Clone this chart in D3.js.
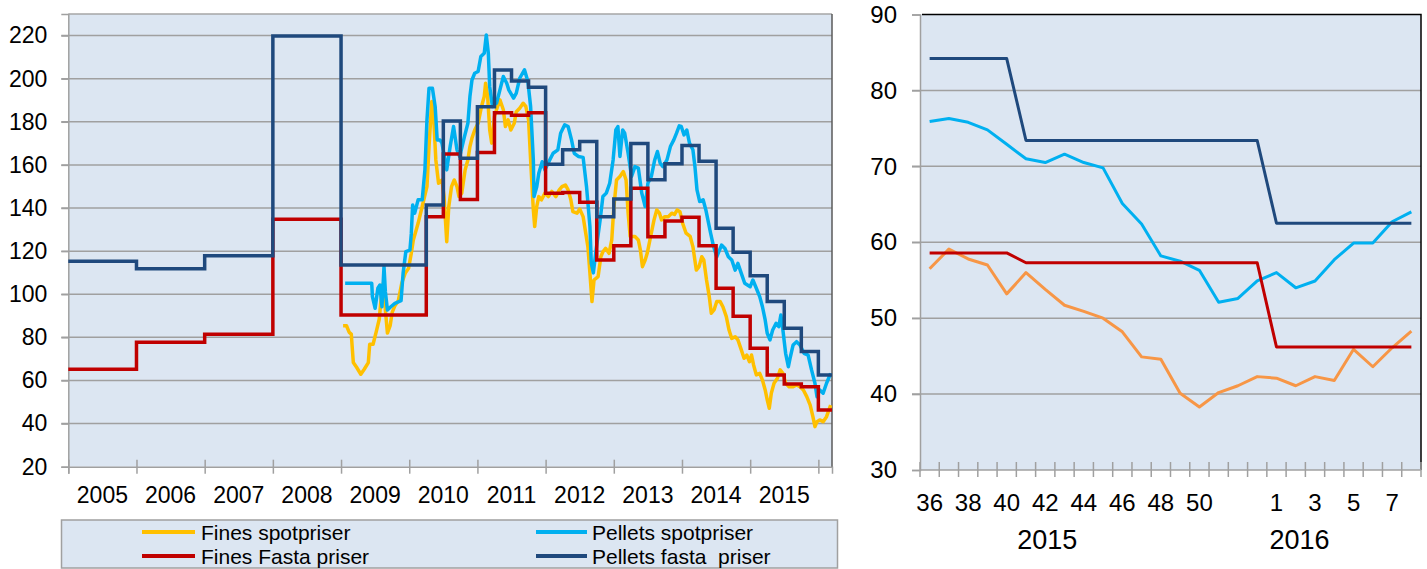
<!DOCTYPE html>
<html>
<head>
<meta charset="utf-8">
<script src="https://cdn.jsdelivr.net/npm/d3@7/dist/d3.min.js"></script>
<style>
  body { margin: 0; background: #fff; }
  svg text { font-family: "Liberation Sans", Arial, sans-serif; fill: #000; }
</style>
</head>
<body>
<script>
// ---- left chart: yearly / quarterly prices 2005-2016 ----
var yearTicks = [2005, 2006, 2007, 2008, 2009, 2010, 2011, 2012, 2013, 2014, 2015, 2016];
var yearLabels = ['2005', '2006', '2007', '2008', '2009', '2010', '2011', '2012', '2013', '2014', '2015'];
var leftYTicks = [20, 40, 60, 80, 100, 120, 140, 160, 180, 200, 220];
var dataEnd = 2016.2;

// [decimal year, price]
var finesSpot = [
  [2009.03, 85.4], [2009.08, 85.4], [2009.12, 82.3], [2009.15, 81.5], [2009.18, 68.3], [2009.23, 66.0],
  [2009.29, 62.9], [2009.34, 65.2], [2009.40, 68.3], [2009.42, 76.8], [2009.47, 76.8], [2009.52, 83.1],
  [2009.56, 88.4], [2009.59, 98.9], [2009.62, 105.1], [2009.65, 92.7], [2009.68, 82.0], [2009.72, 85.4],
  [2009.75, 91.6], [2009.79, 94.7], [2009.84, 97.0], [2009.89, 105.1], [2009.94, 109.7], [2009.99, 112.0],
  [2010.03, 119.0], [2010.06, 125.2], [2010.13, 132.9], [2010.19, 140.7], [2010.26, 149.9], [2010.29, 168.5],
  [2010.33, 189.4], [2010.36, 180.9], [2010.39, 162.3], [2010.43, 151.5], [2010.48, 153.0], [2010.51, 145.3],
  [2010.55, 124.4], [2010.58, 140.7], [2010.62, 149.9], [2010.66, 153.0], [2010.70, 149.9], [2010.73, 145.3],
  [2010.77, 146.9], [2010.82, 157.7], [2010.86, 162.3], [2010.89, 168.5], [2010.92, 172.4], [2010.96, 176.2],
  [2011.01, 179.3], [2011.06, 187.1], [2011.10, 191.7], [2011.12, 197.9], [2011.15, 191.7], [2011.18, 176.2],
  [2011.21, 170.1], [2011.25, 182.5], [2011.28, 185.6], [2011.33, 190.2], [2011.38, 185.6], [2011.41, 177.8],
  [2011.45, 180.9], [2011.49, 176.2], [2011.54, 179.3], [2011.57, 184.7], [2011.62, 186.3], [2011.67, 188.6],
  [2011.71, 187.1], [2011.75, 180.9], [2011.78, 162.3], [2011.82, 139.1], [2011.84, 131.4], [2011.87, 140.7],
  [2011.90, 145.3], [2011.94, 143.8], [2011.99, 146.9], [2012.04, 145.3], [2012.09, 147.7], [2012.15, 145.3],
  [2012.20, 148.4], [2012.24, 149.9], [2012.29, 150.7], [2012.33, 148.4], [2012.37, 143.8], [2012.40, 138.3],
  [2012.46, 137.6], [2012.50, 139.5], [2012.55, 136.0], [2012.62, 122.1], [2012.65, 109.7], [2012.68, 96.6],
  [2012.71, 106.6], [2012.77, 108.2], [2012.81, 117.4], [2012.84, 119.7], [2012.88, 121.3], [2012.93, 119.0],
  [2012.97, 125.2], [2013.00, 140.0], [2013.04, 153.0], [2013.09, 154.6], [2013.14, 156.9], [2013.18, 153.0],
  [2013.21, 137.6], [2013.24, 126.8], [2013.31, 126.8], [2013.36, 125.2], [2013.39, 120.5], [2013.42, 112.8],
  [2013.46, 115.9], [2013.49, 119.0], [2013.53, 125.2], [2013.55, 128.3], [2013.59, 134.5], [2013.63, 139.1],
  [2013.67, 137.6], [2013.70, 134.5], [2013.75, 136.0], [2013.80, 136.0], [2013.85, 137.6], [2013.89, 137.0],
  [2013.93, 139.1], [2013.97, 138.3], [2014.01, 132.9], [2014.06, 128.3], [2014.12, 126.8], [2014.16, 122.1],
  [2014.21, 111.2], [2014.25, 112.8], [2014.29, 117.4], [2014.32, 115.9], [2014.36, 106.6], [2014.40, 98.9],
  [2014.43, 91.2], [2014.47, 92.7], [2014.51, 96.6], [2014.56, 96.6], [2014.60, 94.2], [2014.65, 89.6],
  [2014.69, 83.4], [2014.73, 79.5], [2014.78, 80.3], [2014.82, 78.8], [2014.87, 74.2], [2014.91, 70.3],
  [2014.95, 71.8], [2014.99, 68.7], [2015.02, 71.8], [2015.05, 67.2], [2015.09, 62.6], [2015.14, 63.3],
  [2015.18, 60.2], [2015.22, 55.6], [2015.25, 51.0], [2015.28, 47.1], [2015.31, 54.1], [2015.35, 58.7],
  [2015.40, 61.0], [2015.44, 64.9], [2015.48, 63.3], [2015.52, 58.7], [2015.57, 57.1], [2015.63, 57.1],
  [2015.68, 57.9], [2015.73, 57.1], [2015.78, 55.6], [2015.83, 52.5], [2015.88, 48.6], [2015.92, 43.2],
  [2015.95, 38.6], [2015.98, 40.9], [2016.02, 41.7], [2016.07, 40.9], [2016.12, 43.2], [2016.18, 48.6]
];

var pelletsSpot = [
  [2009.06, 105.1], [2009.45, 105.1], [2009.46, 98.9], [2009.50, 93.5], [2009.54, 102.8], [2009.57, 104.3],
  [2009.60, 94.2], [2009.63, 112.8], [2009.65, 101.2], [2009.68, 92.7], [2009.73, 94.2], [2009.79, 95.8],
  [2009.88, 97.0], [2009.91, 109.7], [2009.95, 119.8], [2010.01, 120.5], [2010.03, 128.0], [2010.05, 141.4],
  [2010.08, 137.6], [2010.13, 143.8], [2010.19, 143.8], [2010.23, 157.7], [2010.26, 180.9], [2010.29, 195.6],
  [2010.34, 195.6], [2010.38, 187.1], [2010.41, 171.6], [2010.45, 171.6], [2010.48, 170.1], [2010.55, 157.7],
  [2010.60, 168.5], [2010.65, 177.8], [2010.70, 167.0], [2010.74, 163.9], [2010.81, 173.1], [2010.86, 179.3],
  [2010.89, 191.7], [2010.92, 199.4], [2010.96, 202.5], [2011.01, 203.3], [2011.05, 210.3], [2011.10, 211.8],
  [2011.13, 220.3], [2011.16, 211.8], [2011.18, 196.3], [2011.22, 187.1], [2011.28, 188.6], [2011.33, 194.8],
  [2011.38, 201.0], [2011.43, 197.9], [2011.46, 194.8], [2011.53, 191.0], [2011.57, 193.3], [2011.62, 200.2],
  [2011.69, 204.1], [2011.74, 198.7], [2011.78, 187.1], [2011.82, 162.3], [2011.83, 145.3], [2011.87, 149.9],
  [2011.90, 156.1], [2011.95, 161.5], [2011.99, 157.7], [2012.06, 162.3], [2012.11, 165.4], [2012.18, 167.0],
  [2012.22, 174.7], [2012.28, 178.6], [2012.33, 177.8], [2012.38, 171.6], [2012.42, 165.4], [2012.48, 163.9],
  [2012.55, 163.5], [2012.60, 149.9], [2012.65, 131.4], [2012.67, 114.3], [2012.70, 109.9], [2012.74, 120.5],
  [2012.80, 134.5], [2012.84, 145.3], [2012.89, 146.9], [2012.94, 151.5], [2012.99, 162.3], [2013.03, 176.2],
  [2013.06, 177.8], [2013.09, 163.9], [2013.13, 176.2], [2013.16, 174.7], [2013.21, 165.4], [2013.26, 154.6],
  [2013.31, 159.2], [2013.36, 158.5], [2013.41, 146.9], [2013.46, 140.7], [2013.50, 151.5], [2013.55, 154.6],
  [2013.60, 162.3], [2013.64, 166.2], [2013.68, 160.8], [2013.72, 159.2], [2013.78, 162.3], [2013.83, 168.5],
  [2013.88, 171.6], [2013.92, 174.7], [2013.96, 178.1], [2013.99, 177.8], [2014.03, 173.9], [2014.07, 176.2],
  [2014.11, 170.1], [2014.16, 167.0], [2014.19, 159.2], [2014.22, 148.4], [2014.26, 143.0], [2014.31, 143.8],
  [2014.35, 139.1], [2014.38, 134.5], [2014.42, 128.3], [2014.46, 122.5], [2014.51, 117.4], [2014.58, 122.8],
  [2014.63, 121.2], [2014.68, 117.4], [2014.73, 115.9], [2014.78, 111.2], [2014.82, 114.3], [2014.87, 109.7],
  [2014.92, 105.1], [2015.00, 103.5], [2015.04, 106.6], [2015.09, 102.8], [2015.14, 98.9], [2015.18, 94.2],
  [2015.22, 88.1], [2015.25, 81.9], [2015.29, 78.8], [2015.33, 83.4], [2015.38, 86.5], [2015.42, 85.0],
  [2015.45, 90.4], [2015.48, 83.4], [2015.52, 72.6], [2015.56, 66.4], [2015.59, 71.0], [2015.63, 76.5],
  [2015.68, 78.0], [2015.73, 76.5], [2015.79, 72.6], [2015.85, 71.8], [2015.90, 64.9], [2015.95, 58.7],
  [2015.98, 52.5], [2016.02, 55.6], [2016.07, 54.1], [2016.12, 58.7], [2016.18, 63.3]
];

// step series: [start of period, price]
var finesFasta = [
  [2005, 65.2], [2006, 77.7], [2007, 81.4], [2008, 134.8], [2009, 90.4],
  [2010.25, 136.0], [2010.5, 165.1], [2010.75, 144.0], [2011, 165.8], [2011.25, 184.2], [2011.5, 183.0],
  [2011.75, 184.2], [2012, 146.9], [2012.25, 147.2], [2012.5, 142.7], [2012.75, 115.9], [2013, 122.5],
  [2013.25, 149.2], [2013.5, 126.7], [2013.75, 134.0], [2014, 135.7], [2014.25, 122.5], [2014.5, 102.8],
  [2014.75, 89.8], [2015, 74.9], [2015.25, 62.5], [2015.5, 58.4], [2015.75, 57.1], [2016, 46.3]
];

var pelletsFasta = [
  [2005, 115.3], [2006, 111.8], [2007, 117.9], [2008, 219.8], [2009, 113.6],
  [2010.25, 141.4], [2010.5, 180.4], [2010.75, 163.1], [2011, 187.0], [2011.25, 204.0], [2011.5, 198.9],
  [2011.75, 196.0], [2012, 160.3], [2012.25, 167.0], [2012.5, 170.8], [2012.75, 136.0], [2013, 144.2],
  [2013.25, 169.9], [2013.5, 153.1], [2013.75, 160.5], [2014, 169.0], [2014.25, 161.7], [2014.5, 130.6],
  [2014.75, 119.5], [2015, 108.6], [2015.25, 96.6], [2015.5, 84.2], [2015.75, 73.4], [2016, 62.5]
];

var legendNames = ['Fines spotpriser', 'Pellets spotpriser', 'Fines Fasta priser', 'Pellets fasta  priser'];

// ---- right chart: weekly prices, week 36 2015 - week 8 2016 ----
var weeks = [36, 37, 38, 39, 40, 41, 42, 43, 44, 45, 46, 47, 48, 49, 50, 51, 52, 53, 1, 2, 3, 4, 5, 6, 7, 8];
var weekLabels = ['36', '', '38', '', '40', '', '42', '', '44', '', '46', '', '48', '', '50', '', '', '', '1', '', '3', '', '5', '', '7', ''];
var weekYears = ['2015', '2016'];
var rightYTicks = [30, 40, 50, 60, 70, 80, 90];

var wFinesSpot = [56.5, 59.1, 57.8, 57.0, 53.2, 56.0, 53.8, 51.7, 50.9, 50.0, 48.2, 44.9, 44.6,
                  40.1, 38.3, 40.2, 41.1, 42.3, 42.1, 41.1, 42.3, 41.8, 45.9, 43.6, 46.1, 48.3];
var wPelletsSpot = [75.9, 76.3, 75.8, 74.8, 72.9, 71.0, 70.5, 71.6, 70.5, 69.8, 65.1, 62.4, 58.2,
                    57.5, 56.3, 52.1, 52.6, 54.9, 56.0, 54.0, 54.9, 57.7, 59.9, 59.9, 62.7, 64.0];
var wFinesFasta = [58.6, 58.6, 58.6, 58.6, 58.6, 57.3, 57.3, 57.3, 57.3, 57.3, 57.3, 57.3, 57.3,
                   57.3, 57.3, 57.3, 57.3, 57.3, 46.2, 46.2, 46.2, 46.2, 46.2, 46.2, 46.2, 46.2];
var wPelletsFasta = [84.2, 84.2, 84.2, 84.2, 84.2, 73.4, 73.4, 73.4, 73.4, 73.4, 73.4, 73.4, 73.4,
                     73.4, 73.4, 73.4, 73.4, 73.4, 62.5, 62.5, 62.5, 62.5, 62.5, 62.5, 62.5, 62.5];

var colors = {
  finesSpot: '#FFC000',
  finesSpotWeek: '#F79646',
  pelletsSpot: '#00B0F0',
  finesFasta: '#C00000',
  pelletsFasta: '#1F497D'
};
var plotBg = '#DCE6F2',
    gridColor = '#A0A0A0';

var svg = d3.select('body')
  .append('svg')
  .attr('width', 1427)
  .attr('height', 569);

// ================= left chart =================
var x = d3.scaleLinear().domain([2005, dataEnd]).range([68.3, 832]);
var y = d3.scaleLinear().domain([20, 230]).range([466.7, 14]);

var left = svg.append('g');

left.append('rect')
  .attr('x', x(2005)).attr('y', y(230))
  .attr('width', x(dataEnd) - x(2005)).attr('height', y(20) - y(230))
  .attr('fill', plotBg);

left.selectAll('.grid')
  .data(leftYTicks.slice(1))
  .enter().append('line')
  .attr('x1', x(2005) - 7).attr('x2', x(dataEnd))
  .attr('y1', function(d) { return y(d); })
  .attr('y2', function(d) { return y(d); })
  .attr('stroke', gridColor).attr('stroke-width', 1.5);

// top border
left.append('line')
  .attr('x1', x(2005)).attr('x2', x(dataEnd))
  .attr('y1', y(230)).attr('y2', y(230))
  .attr('stroke', '#A6A6A6').attr('stroke-width', 1.5);

// y axis
var yAxis = left.append('g')
  .attr('transform', 'translate(' + x(2005) + ',0)')
  .call(d3.axisLeft(y).tickValues(leftYTicks).tickSize(7).tickPadding(14));
yAxis.select('.domain').attr('stroke', gridColor).attr('stroke-width', 1.5);
yAxis.selectAll('.tick line').attr('stroke', gridColor).attr('stroke-width', 1.5);
yAxis.selectAll('.tick text')
  .style('font-size', '23px');

// x axis (ticks at year boundaries)
var xAxis = left.append('g')
  .attr('transform', 'translate(0,' + y(20) + ')')
  .call(d3.axisBottom(x).tickValues(yearTicks).tickSize(7).tickFormat(''));
xAxis.select('.domain').attr('stroke', gridColor).attr('stroke-width', 1.5);
xAxis.selectAll('.tick line')
  .attr('y1', -7)
  .attr('stroke', gridColor).attr('stroke-width', 1.5);

left.selectAll('.ylab')
  .data(yearLabels)
  .enter().append('text')
  .attr('x', function(d) { return x(+d + 0.5); })
  .attr('y', 503)
  .attr('text-anchor', 'middle')
  .style('font-size', '23px')
  .text(function(d) { return d; });

// right border
left.append('line')
  .attr('x1', x(dataEnd)).attr('x2', x(dataEnd))
  .attr('y1', y(230)).attr('y2', y(20))
  .attr('stroke', '#5A5A5A').attr('stroke-width', 1.5);

var line = d3.line()
  .x(function(d) { return x(d[0]); })
  .y(function(d) { return y(d[1]); });

var stepLine = d3.line()
  .x(function(d) { return x(d[0]); })
  .y(function(d) { return y(d[1]); })
  .curve(d3.curveStepAfter);

function closeStep(s) {
  return s.concat([[dataEnd, s[s.length - 1][1]]]);
}

left.append('path')
  .datum(finesSpot)
  .attr('d', line)
  .attr('fill', 'none').attr('stroke', colors.finesSpot)
  .attr('stroke-width', 3.5).attr('stroke-linejoin', 'round');

left.append('path')
  .datum(pelletsSpot)
  .attr('d', line)
  .attr('fill', 'none').attr('stroke', colors.pelletsSpot)
  .attr('stroke-width', 3.5).attr('stroke-linejoin', 'round');

left.append('path')
  .datum(closeStep(finesFasta))
  .attr('d', stepLine)
  .attr('fill', 'none').attr('stroke', colors.finesFasta)
  .attr('stroke-width', 3.5);

left.append('path')
  .datum(closeStep(pelletsFasta))
  .attr('d', stepLine)
  .attr('fill', 'none').attr('stroke', colors.pelletsFasta)
  .attr('stroke-width', 3.5);

// legend
var legend = svg.append('g');
legend.append('rect')
  .attr('x', 61.5).attr('y', 520)
  .attr('width', 776).attr('height', 48)
  .attr('fill', plotBg).attr('stroke', '#A0A0A0').attr('stroke-width', 1.5);

var legendColors = [colors.finesSpot, colors.pelletsSpot, colors.finesFasta, colors.pelletsFasta];
var legendItem = legend.selectAll('.item')
  .data(legendNames)
  .enter().append('g')
  .attr('transform', function(d, i) {
    return 'translate(' + (i % 2 ? 536 : 142) + ',' + (i < 2 ? 532 : 556) + ')';
  });

legendItem.append('line')
  .attr('x1', 0).attr('x2', function(d, i) { return i % 2 ? 51 : 53; })
  .attr('stroke', function(d, i) { return legendColors[i]; })
  .attr('stroke-width', 4);

legendItem.append('text')
  .attr('x', function(d, i) { return i % 2 ? 56 : 59; })
  .attr('y', 7.5)
  .style('font-size', '21px')
  .style('white-space', 'pre')
  .attr('xml:space', 'preserve')
  .text(function(d) { return d; });

// ================= right chart =================
var xw = d3.scaleBand().domain(weeks).range([920, 1421]);
var yw = d3.scaleLinear().domain([30, 90]).range([470, 14.5]);
var bw = xw.bandwidth();

var right = svg.append('g');

right.append('rect')
  .attr('x', 920).attr('y', yw(90))
  .attr('width', 501).attr('height', yw(30) - yw(90))
  .attr('fill', plotBg);

right.selectAll('.grid')
  .data(rightYTicks.slice(1, -1))
  .enter().append('line')
  .attr('x1', 912).attr('x2', 1421)
  .attr('y1', function(d) { return yw(d); })
  .attr('y2', function(d) { return yw(d); })
  .attr('stroke', gridColor).attr('stroke-width', 1.5);

// black top and right border
right.append('path')
  .attr('d', 'M' + 922 + ',' + yw(90) + 'H' + 1421 + 'V' + yw(30))
  .attr('fill', 'none').attr('stroke', '#000').attr('stroke-width', 1.5);

var yAxisR = right.append('g')
  .attr('transform', 'translate(920,0)')
  .call(d3.axisLeft(yw).tickValues(rightYTicks).tickSize(8).tickPadding(15));
yAxisR.select('.domain').attr('stroke', gridColor).attr('stroke-width', 1.5);
yAxisR.selectAll('.tick line').attr('stroke', gridColor).attr('stroke-width', 1.5);
yAxisR.selectAll('.tick text').style('font-size', '24px');

// bottom axis: tick at every band edge
var edges = weeks.map(function(w) { return xw(w); }).concat([xw.range()[1]]);
right.append('line')
  .attr('x1', 920).attr('x2', 1421)
  .attr('y1', yw(30)).attr('y2', yw(30))
  .attr('stroke', gridColor).attr('stroke-width', 1.5);
right.selectAll('.btick')
  .data(edges)
  .enter().append('line')
  .attr('x1', function(d) { return d; }).attr('x2', function(d) { return d; })
  .attr('y1', yw(30) - 8).attr('y2', yw(30) + 7)
  .attr('stroke', gridColor).attr('stroke-width', 1.5);

right.selectAll('.wlab')
  .data(weeks)
  .enter().append('text')
  .attr('x', function(d) { return xw(d) + bw / 2; })
  .attr('y', 511)
  .attr('text-anchor', 'middle')
  .style('font-size', '24px')
  .text(function(d, i) { return weekLabels[i]; });

// year captions under the week labels
var yearAt = [6.6, 19.7];
right.selectAll('.yr')
  .data(weekYears)
  .enter().append('text')
  .attr('x', function(d, i) { return 920 + yearAt[i] * bw; })
  .attr('y', 549)
  .attr('text-anchor', 'middle')
  .style('font-size', '27px')
  .text(function(d) { return d; });

var wline = d3.line()
  .x(function(d, i) { return xw(weeks[i]) + bw / 2; })
  .y(function(d) { return yw(d); });

[[wFinesSpot, colors.finesSpotWeek], [wPelletsSpot, colors.pelletsSpot],
 [wFinesFasta, colors.finesFasta], [wPelletsFasta, colors.pelletsFasta]].forEach(function(s) {
  right.append('path')
    .datum(s[0])
    .attr('d', wline)
    .attr('fill', 'none').attr('stroke', s[1])
    .attr('stroke-width', 3).attr('stroke-linejoin', 'round');
});
</script>
</body>
</html>
